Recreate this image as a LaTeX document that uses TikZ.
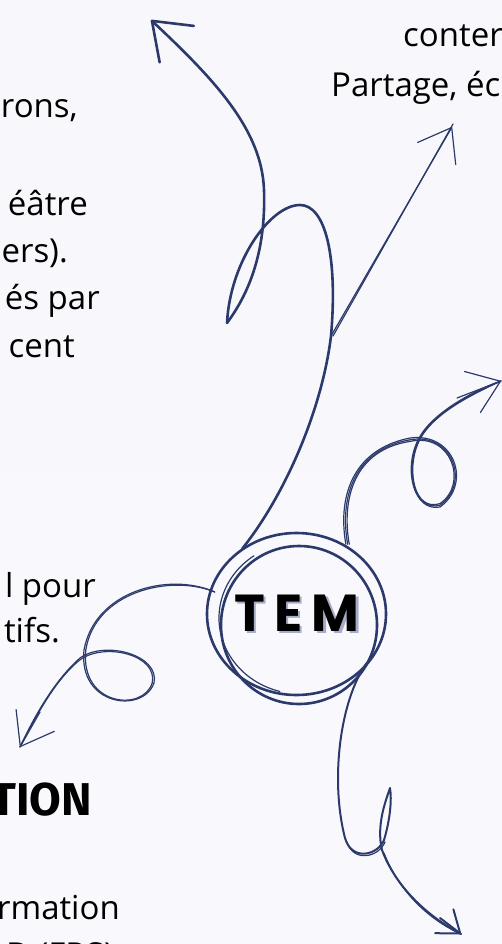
\documentclass[tikz,border=0pt]{standalone}
\usepackage{fontspec}
\setmainfont{Open Sans}
\newfontfamily\temfont{Poppins}[LetterSpace=18]
\newfontfamily\headfont{Fira Sans}
\usetikzlibrary{arrows.meta}
\definecolor{ink}{RGB}{44,58,107}
\definecolor{temshadow}{RGB}{165,172,198}
\newcommand\shadowed[1]{\makebox[0pt][l]{\kern2.5pt\raisebox{-2.5pt}{\color{temshadow}#1}}#1}

\begin{document}
\begin{tikzpicture}[x=1pt, y=-1pt, >=Stealth,
  txt/.style={font=\fontsize{33}{40}\selectfont, inner sep=0pt},
  pen/.style={draw=ink, line width=2.6pt, line cap=round, line join=round},
  fine/.style={draw=ink, line width=1.2pt, line cap=round, line join=round},
  bigbarb/.style={-{Straight Barb[length=34pt, width=50pt, round]}},
  midbarb/.style={-{Straight Barb[length=30pt, width=44pt, round]}},
  smallbarb/.style={-{Straight Barb[length=20pt, width=30pt, round]}}]

% Background
\useasboundingbox (0,0) rectangle (502,944);
\clip (0,0) rectangle (502,944);
\shade[top color={rgb,255:red,248;green,248;blue,252}, middle color={rgb,255:red,235;green,235;blue,240},
  bottom color={rgb,255:red,249;green,249;blue,253}] (0,0) rectangle (502,944);

% --- Text cut by the frame ---
\node[txt, anchor=base east] (l1) at (78,118) {rons,};
\node[txt, anchor=base east] (l2) at (88,215) {éâtre};
\node[txt, anchor=base east] (l3) at (68,262) {ers).};
\node[txt, anchor=base east] (l4) at (100,309) {és par};
\node[txt, anchor=base east] (l5) at (75,357) {cent};
\node[txt, anchor=base east] (l6) at (96,597) {l pour};
\node[txt, anchor=base east] (l7) at (60,642) {tifs.};
\node[txt, anchor=base east, font=\headfont\fontsize{46}{48}\selectfont\bfseries] (l8) at (92,815) {TION};
\node[txt, anchor=base east] (l9) at (120,919) {rmation};
\node[txt, anchor=base east] (l10) at (114,966) {D (FRS)};
\node[txt, anchor=base west] (r1) at (403,47) {conter};
\node[txt, anchor=base west] (r2) at (331,97) {Partage, éc};

% --- Centre ---
\node[circle, minimum size=170pt, inner sep=0pt] (tem) at (297,614)
  {\temfont\bfseries\fontsize{52}{52}\selectfont\shadowed{TEM}};
\draw[pen] (tem.center) ++(-0.5,0) ellipse (89.5 and 81);
\draw[pen] (tem.center) ++(2,11) ellipse (78 and 79);
\draw[fine] (tem.center) ++(4,4) ++(105:82 and 76) arc (105:235:82 and 76);

% --- Connectors ---
\coordinate (tipA) at (151,20);
\coordinate (fork) at (331,336);
\coordinate (tipB) at (452,127);
\coordinate (tipC) at (501,381);
\coordinate (tipD) at (20,747);
\coordinate (tipE) at (461,934);

% up left
\draw[pen, bigbarb] (tem.130) .. controls (285,495) and (322,410) .. (fork)
  .. controls (338,255) and (325,205) .. (300,205)
  .. controls (270,205) and (230,262) .. (227,323)
  .. controls (250,292) and (266,250) .. (264,190)
  .. controls (262,130) and (215,80) .. (tipA);

% up right
\draw[fine, midbarb] (fork) -- (tipB);
\draw[fine] ([xshift=2pt]fork) -- ([xshift=1pt, yshift=3pt]tipB);

% right, with a loop
\foreach \d in {0,1.8,3.4}
  \draw[fine] ([xshift=\d pt]tem.55) .. controls (338+\d,500) and (350+\d,450) .. (410,438+\d)
    .. controls (455-\d,432) and (472-\d,484) .. (440,507-\d)
    .. controls (414,512) and (403+\d,470) .. (418,440+\d)
    .. controls (430,415) and (470,392+\d) .. (tipC);
\draw[fine, midbarb] (457,398) -- (tipC);

% left, with a loop
\foreach \d in {0,1.8}
  \draw[fine] (tem.165) .. controls (170,572+\d) and (95,590+\d) .. (84+\d,650)
    .. controls (78+\d,706) and (143,714-\d) .. (154-\d,683)
    .. controls (160-\d,655) and (105,640+\d) .. (80,658+\d)
    .. controls (55,680) and (35+\d,715) .. (tipD);
\draw[fine, midbarb] (40,712) -- (tipD);

% down, with a loop
\draw[pen, line width=2pt] (tem.-35) .. controls (340,700) and (330,780) .. (345,838)
  .. controls (352,862) and (378,855) .. (384,840)
  .. controls (390,820) and (392,800) .. (390,788)
  .. controls (386,800) and (376,825) .. (382,850)
  .. controls (395,885) and (425,915) .. (tipE);
\draw[fine] (346,840) .. controls (353,864) and (379,857) .. (385,842);
\draw[fine] (384,853) .. controls (397,887) and (425,918) .. (tipE);
\draw[fine, smallbarb, line width=2pt] (440,918) -- (tipE);

\end{tikzpicture}
\end{document}
